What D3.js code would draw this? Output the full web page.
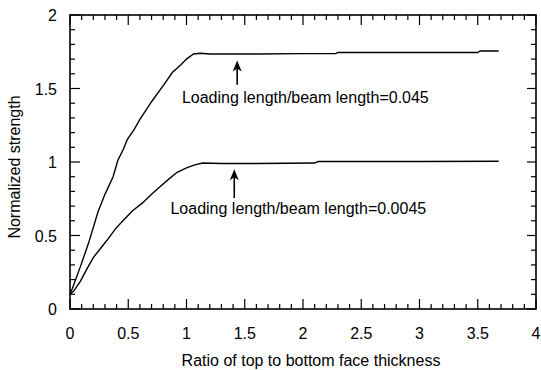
<!DOCTYPE html>
<html>
<head>
<meta charset="utf-8">
<script src="https://cdn.jsdelivr.net/npm/d3@7"></script>
<style>
  body { margin: 0; background: #fff; }
  svg text { font-family: "Liberation Sans", Arial, sans-serif; fill: #000; }
</style>
</head>
<body>
<svg id="chart" width="541" height="370"></svg>
<script>
// upper curve, loading length/beam length = 0.045
var xUpper = [0, 0.02, 0.09, 0.16, 0.24, 0.30, 0.37, 0.41, 0.46, 0.49, 0.55, 0.60, 0.70, 0.80, 0.88, 0.95, 1.00, 1.06, 1.12, 1.20, 1.30, 1.60, 2.00, 2.28, 2.30, 2.80, 3.20, 3.50, 3.52, 3.68];
var yUpper = [0.10, 0.14, 0.29, 0.45, 0.66, 0.78, 0.90, 1.01, 1.09, 1.15, 1.22, 1.29, 1.41, 1.52, 1.61, 1.66, 1.70, 1.735, 1.74, 1.735, 1.735, 1.735, 1.737, 1.737, 1.745, 1.745, 1.745, 1.745, 1.755, 1.755];

// lower curve, loading length/beam length = 0.0045
var xLower = [0, 0.03, 0.09, 0.15, 0.20, 0.27, 0.33, 0.39, 0.46, 0.54, 0.62, 0.70, 0.77, 0.85, 0.92, 1.00, 1.07, 1.14, 1.30, 1.60, 2.10, 2.13, 2.60, 3.00, 3.68];
var yLower = [0.10, 0.12, 0.19, 0.28, 0.35, 0.42, 0.48, 0.545, 0.605, 0.67, 0.72, 0.78, 0.83, 0.885, 0.93, 0.96, 0.98, 0.993, 0.99, 0.99, 0.993, 1.003, 1.003, 1.003, 1.005];

var xTicks = [0, 0.5, 1, 1.5, 2, 2.5, 3, 3.5, 4];
var yTicks = [0, 0.5, 1, 1.5, 2];

// annotations: arrow tip / tail and label, in data units
var noteLabels = ["Loading length/beam length=0.045", "Loading length/beam length=0.0045"];
var noteArrowX = [1.435, 1.41];
var noteTipY = [1.69, 0.95];
var noteTailY = [1.525, 0.755];
var noteTextX = [2.02, 1.96];
var noteTextY = [1.40, 0.645];

var margin = {top: 15, right: 5, bottom: 61, left: 70},
    w = 541 - margin.left - margin.right,
    h = 370 - margin.top - margin.bottom;

var svg = d3.select("#chart").append("g")
    .attr("transform", "translate(" + margin.left + "," + margin.top + ")");

var x = d3.scaleLinear().domain([0, 4]).range([0, w]),
    y = d3.scaleLinear().domain([0, 2]).range([h, 0]);

var minorX = d3.range(0, 41).map(function(i) { return i / 10; }),
    minorY = d3.range(0, 21).map(function(i) { return i / 10; });

function isMajor(v) { return Math.abs(v * 2 - Math.round(v * 2)) < 1e-6; }

// plot box
svg.append("rect")
    .attr("x", 0).attr("y", 0)
    .attr("width", w).attr("height", h)
    .attr("fill", "none")
    .attr("stroke", "black")
    .attr("stroke-width", 1.6);

// tick marks, pointing inward on all four sides
function tickLines(cls, data, x1, y1, x2, y2) {
  svg.selectAll("." + cls).data(data).enter().append("line")
      .attr("class", cls)
      .attr("x1", x1).attr("y1", y1).attr("x2", x2).attr("y2", y2)
      .attr("stroke", "black")
      .attr("stroke-width", 1.2);
}
tickLines("tb", minorX, function(d) { return x(d); }, h, function(d) { return x(d); }, function(d) { return h - (isMajor(d) ? 10 : 5); });
tickLines("tt", minorX, function(d) { return x(d); }, 0, function(d) { return x(d); }, function(d) { return isMajor(d) ? 10 : 5; });
tickLines("tl", minorY, 0, function(d) { return y(d); }, function(d) { return isMajor(d) ? 10 : 5; }, function(d) { return y(d); });
tickLines("tr", minorY, w, function(d) { return y(d); }, function(d) { return w - (isMajor(d) ? 9 : 5); }, function(d) { return y(d); });

var line = d3.line()
    .x(function(d) { return x(d[0]); })
    .y(function(d) { return y(d[1]); });

[[xUpper, yUpper], [xLower, yLower]].forEach(function(s) {
  svg.append("path")
      .datum(d3.zip(s[0], s[1]))
      .attr("fill", "none")
      .attr("stroke", "black")
      .attr("stroke-width", 1.4)
      .attr("d", line);
});

// tick labels
svg.selectAll(".xl").data(xTicks).enter().append("text")
    .attr("class", "xl")
    .attr("x", function(d) { return x(d); })
    .attr("y", h + 30)
    .attr("text-anchor", "middle")
    .attr("font-size", "16px")
    .text(function(d) { return d3.format("")(d); });
svg.selectAll(".yl").data(yTicks).enter().append("text")
    .attr("class", "yl")
    .attr("x", -13)
    .attr("y", function(d) { return y(d) + 6; })
    .attr("text-anchor", "end")
    .attr("font-size", "16px")
    .text(function(d) { return d3.format("")(d); });

// arrows + labels
noteLabels.forEach(function(lbl, i) {
  var ax = x(noteArrowX[i]), tip = y(noteTipY[i]), tail = y(noteTailY[i]);
  svg.append("line")
      .attr("x1", ax).attr("x2", ax)
      .attr("y1", tip + 4).attr("y2", tail)
      .attr("stroke", "black").attr("stroke-width", 1.6);
  svg.append("path")
      .attr("d", "M" + ax + "," + tip + "L" + (ax + 4.5) + "," + (tip + 11) + "L" + ax + "," + (tip + 8) + "L" + (ax - 4.5) + "," + (tip + 11) + "Z")
      .attr("fill", "black");
  svg.append("text")
      .attr("x", x(noteTextX[i]))
      .attr("y", y(noteTextY[i]))
      .attr("text-anchor", "middle")
      .attr("font-size", "16px")
      .text(lbl);
});

// axis titles
svg.append("text")
    .attr("x", w / 2 + 8)
    .attr("y", h + 57)
    .attr("text-anchor", "middle")
    .attr("font-size", "16px")
    .text("Ratio of top to bottom face thickness");

svg.append("text")
    .attr("transform", "translate(-50," + (y(1) + 5) + ") rotate(-90)")
    .attr("text-anchor", "middle")
    .attr("font-size", "16px")
    .text("Normalized strength");
</script>
</body>
</html>
